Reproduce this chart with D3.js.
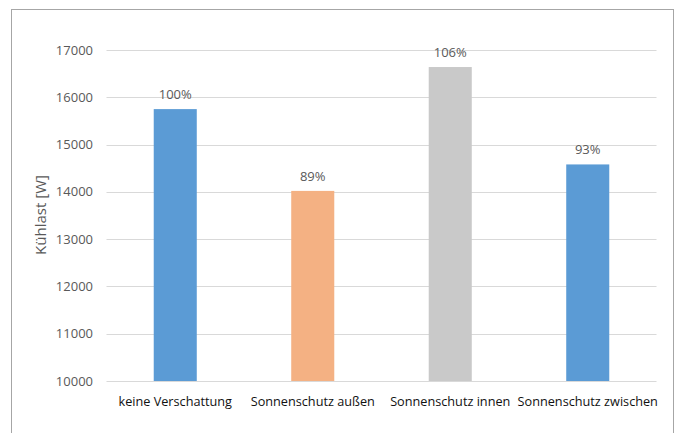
<!DOCTYPE html>
<html><head><meta charset="utf-8">
<script src="https://cdn.jsdelivr.net/npm/d3@7"></script>
<style>
html,body{margin:0;padding:0;background:#fff;}
svg{display:block;}
text{font-family:"Open Sans","Liberation Sans",sans-serif;}
</style></head>
<body>
<svg id="chart" width="676" height="433"></svg>
<script>
const categories = ["keine Verschattung","Sonnenschutz außen","Sonnenschutz innen","Sonnenschutz zwischen"];
const values = [15750, 14020, 16640, 14580];
const labels = ["100%","89%","106%","93%"];
const colors = ["#5b9bd5","#f4b183","#c9c9c9","#5b9bd5"];
const yTicks = [10000,11000,12000,13000,14000,15000,16000,17000];

const svg = d3.select("#chart");
// outer frame
svg.append("rect").attr("x",11.5).attr("y",9.5).attr("width",662).attr("height",440)
  .attr("fill","none").attr("stroke","#a6a6a6").attr("stroke-width",1);

const x = d3.scaleBand().domain(categories).range([106.5,656.5]).paddingInner(0.687).paddingOuter(0.3435);
const y = d3.scaleLinear().domain([10000,17000]).range([381,50]);

const g = svg.append("g");
// gridlines
g.selectAll("line.grid").data(yTicks).join("line")
  .attr("x1",106.5).attr("x2",656.5)
  .attr("y1",d=>Math.round(y(d))+0.5).attr("y2",d=>Math.round(y(d))+0.5)
  .attr("stroke","#d9d9d9").attr("stroke-width",1);

// y tick labels
g.selectAll("text.yt").data(yTicks).join("text")
  .attr("x",93).attr("y",d=>y(d)).attr("dy","0.35em")
  .attr("text-anchor","end").attr("fill","#595959").attr("font-size","13px")
  .text(d=>d);

// bars
g.selectAll("rect.bar").data(values).join("rect")
  .attr("x",(d,i)=>x(categories[i])).attr("width",x.bandwidth())
  .attr("y",d=>y(d)).attr("height",d=>y(10000)-y(d))
  .attr("fill",(d,i)=>colors[i]);

// data labels
g.selectAll("text.dl").data(values).join("text")
  .attr("x",(d,i)=>x(categories[i])+x.bandwidth()/2).attr("y",d=>y(d)-10)
  .attr("text-anchor","middle").attr("fill","#595959").attr("font-size","13px")
  .text((d,i)=>labels[i]);

// category labels
g.selectAll("text.cat").data(categories).join("text")
  .attr("x",d=>x(d)+x.bandwidth()/2).attr("y",406)
  .attr("text-anchor","middle").attr("fill","#111").attr("font-size","12.7px")
  .text(d=>d);

// y axis title
svg.append("text").attr("transform","translate(46,215) rotate(-90)")
  .attr("text-anchor","middle").attr("fill","#595959").attr("font-size","15px")
  .text("Kühlast [W]");
</script>
</body></html>
